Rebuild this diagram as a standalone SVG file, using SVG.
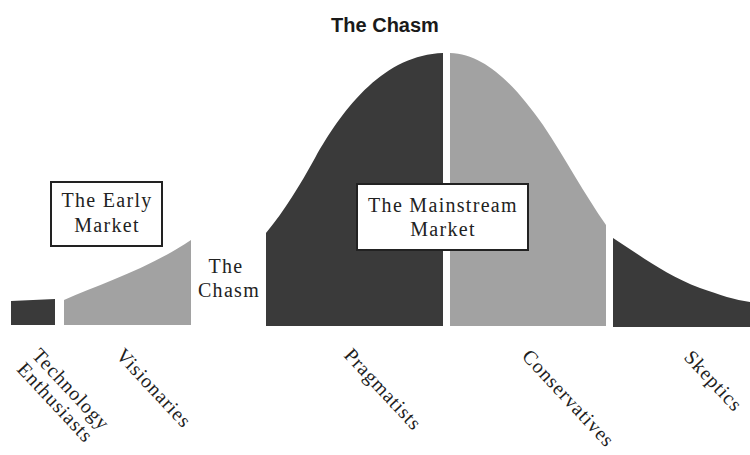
<svg xmlns="http://www.w3.org/2000/svg" width="750" height="455" viewBox="0 0 750 455">
<style>
.dark{fill:#3a3a3a}
.light{fill:#a2a2a2}
.box{fill:#fff;stroke:#222;stroke-width:2}
.lbl{font-family:"Liberation Serif","Times New Roman",serif;font-size:20px;letter-spacing:1.3px;fill:#222}
.rot{letter-spacing:0.9px;fill:#1e1e1e}
.mid{text-anchor:middle}
.title{font-family:"Liberation Sans",Arial,sans-serif;font-size:20px;font-weight:bold;fill:#1a1a1a;text-anchor:middle}
</style>
<rect width="750" height="455" fill="#fff"/>
<text class="title" x="385" y="32">The Chasm</text>
<g id="tech-enthusiasts">
<path class="dark" d="M11,325 V301 L55,299 V325 Z"/>
<text class="lbl rot" transform="translate(31,356) rotate(47)">Technology</text>
<text class="lbl rot" transform="translate(16,370) rotate(47)">Enthusiasts</text>
</g>
<g id="visionaries">
<path class="light" d="M64,325 V300 C100,284 150,268 191,240 V325 Z"/>
<text class="lbl rot" transform="translate(115,356) rotate(47)">Visionaries</text>
</g>
<g id="chasm">
<text class="lbl mid" x="226" y="273">The</text>
<text class="lbl mid" x="229" y="297">Chasm</text>
</g>
<g id="pragmatists">
<path class="dark" d="M266,326 V233 C285,210 300,185 315,158 C345,105 385,55 443,53 V326 Z"/>
<text class="lbl rot" transform="translate(343,356) rotate(47)">Pragmatists</text>
</g>
<g id="conservatives">
<path class="light" d="M450,326 V53 C485,54 515,85 543,125 C565,158 585,195 606,225 V326 Z"/>
<text class="lbl rot" transform="translate(521,357) rotate(47)">Conservatives</text>
</g>
<g id="skeptics">
<path class="dark" d="M613,327 V238 C640,255 665,275 700,288 C720,295 735,300 750,302 V327 Z"/>
<text class="lbl rot" transform="translate(683,358) rotate(47)">Skeptics</text>
</g>
<g id="early-market">
<rect class="box" x="51" y="182" width="111" height="64"/>
<text class="lbl mid" x="107" y="207">The Early</text>
<text class="lbl mid" x="107" y="232">Market</text>
</g>
<g id="mainstream-market">
<rect class="box" x="357" y="184" width="171" height="66"/>
<text class="lbl mid" x="443" y="212">The Mainstream</text>
<text class="lbl mid" x="443" y="236">Market</text>
</g>
<g id="connectors"></g>
</svg>
